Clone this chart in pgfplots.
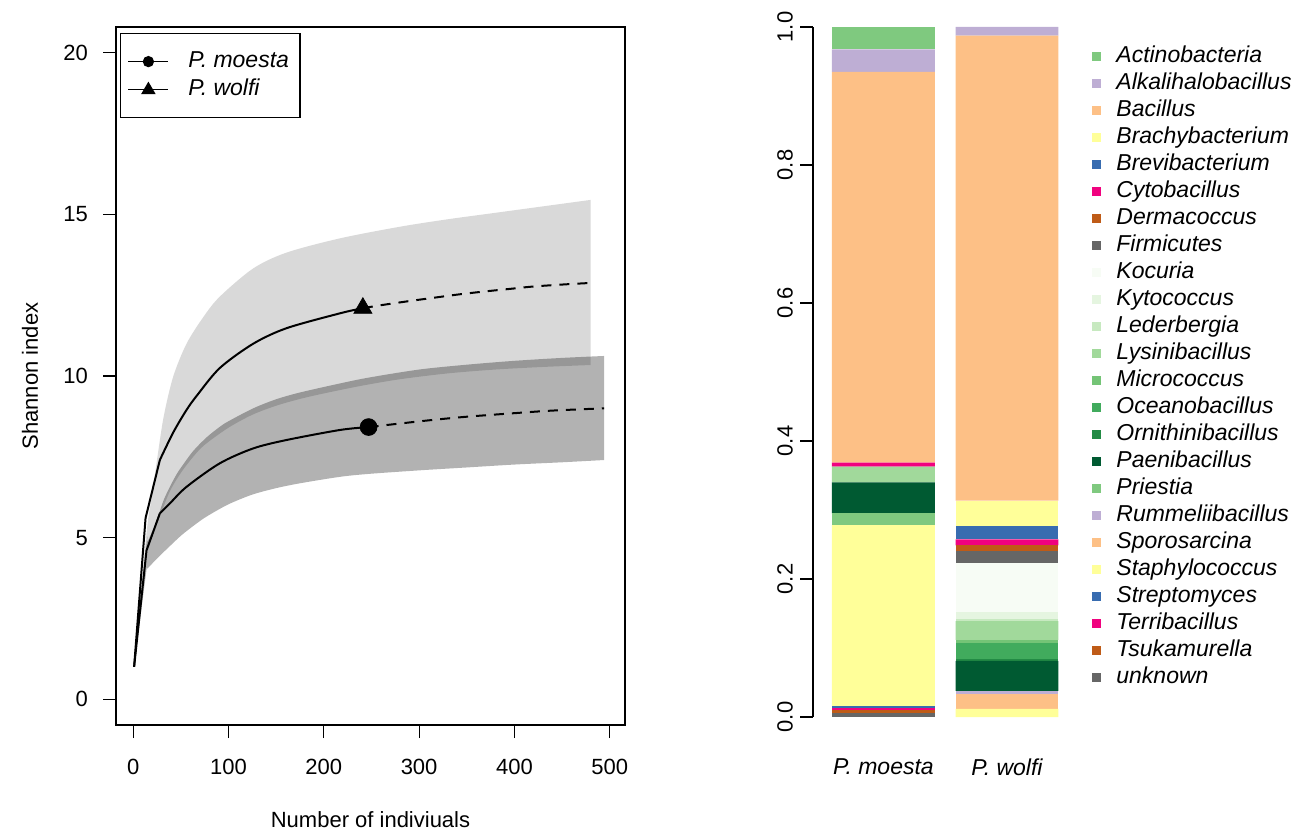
\documentclass[border=0pt]{standalone}
\usepackage{fontspec}
\setmainfont{Liberation Sans}
\usepackage{pgfplots}
\pgfplotsset{compat=1.18}
\usepackage{pgfplotstable}
\usepgfplotslibrary{fillbetween}

\definecolor{acA}{HTML}{7FC97F}
\definecolor{acB}{HTML}{BEAED4}
\definecolor{acC}{HTML}{FDC086}
\definecolor{acD}{HTML}{FFFF99}
\definecolor{acE}{HTML}{386CB0}
\definecolor{acF}{HTML}{F0027F}
\definecolor{acG}{HTML}{BF5B17}
\definecolor{acH}{HTML}{666666}
\definecolor{grA}{HTML}{F7FCF5}
\definecolor{grB}{HTML}{E5F5E0}
\definecolor{grC}{HTML}{C7E9C0}
\definecolor{grD}{HTML}{A1D99B}
\definecolor{grE}{HTML}{74C476}
\definecolor{grF}{HTML}{41AB5D}
\definecolor{grG}{HTML}{238B45}
\definecolor{grH}{HTML}{005A32}

% relative abundances, stacked from bottom (unknown) to top (Actinobacteria)
\pgfplotstableread{
x unknown Tsukamurella Terribacillus Streptomyces Staphylococcus Sporosarcina Rummeliibacillus Priestia Paenibacillus Ornithinibacillus Oceanobacillus Micrococcus Lysinibacillus Lederbergia Kytococcus Kocuria Firmicutes Dermacoccus Cytobacillus Brevibacterium Brachybacterium Bacillus Alkalihalobacillus Actinobacteria
0.7 0.0065 0.0034 0.0034 0.0025 0.2624 0 0 0.0169 0.0449 0 0 0 0.0229 0 0 0 0 0 0.0058 0 0 0.5664 0.0325 0.0323
1.9 0 0 0 0 0.0116 0.0217 0.0044 0 0.0435 0.0029 0.0227 0.0048 0.0275 0.0025 0.0101 0.0710 0.0179 0.0082 0.0087 0.0193 0.0367 0.6739 0.0126 0
}\bardata

\newcommand{\gbar}[2]{%
  \addplot[fill=#2, draw=none, sqleg] table[x=x,y=#1]{\bardata};
  \addlegendentry{#1}}

\newcommand{\fs}{\fontsize{11}{13}\selectfont}
\newcommand{\fl}{\fontsize{11.5}{13.5}\selectfont}

\begin{document}
\begin{tikzpicture}
\path (0,0) rectangle (651pt,415.5pt);

% ---------------- left: rarefaction curves ----------------
\begin{axis}[
  at={(58pt,53pt)}, anchor=south west,
  scale only axis, width=254.5pt, height=349pt,
  xmin=-18, xmax=516, ymin=-0.8, ymax=20.8,
  xtick={0,100,200,300,400,500}, ytick={0,5,10,15,20},
  tick align=outside, tick pos=left, major tick length=6.5pt,
  tick style={black, line width=0.6pt},
  axis line style={line width=0.7pt},
  ticklabel style={font=\fs},
  xticklabel style={yshift=-7pt},
  yticklabel style={xshift=-4pt},
  /pgf/number format/assume math mode=true,
  xlabel={Number of indiviuals}, ylabel={Shannon index},
  every axis x label/.style={at={(axis description cs:0.5,-0.136)}, anchor=center, font=\fs},
  every axis y label/.style={at={(axis description cs:-0.169,0.5)}, rotate=90, anchor=center, font=\fs},
  legend style={at={(axis description cs:0,1)}, anchor=north west,
    xshift=2pt, yshift=-3pt, draw=black, line width=0.6pt,
    font=\fl\itshape, inner xsep=3.5pt, inner ysep=7pt,
    nodes={inner ysep=1.75pt, text height=8pt, text depth=2.5pt}},
  legend cell align=left,
]
% Confidence bands
\addplot[name path=wu, draw=none, smooth, tension=0.5, forget plot] coordinates {
(1,1.0) (14,5.13) (19,6.16) (25,7.4) (32,8.74) (42,9.98) (56,11.0) (74,11.84)
(91,12.46) (126,13.33) (161,13.82) (217,14.26) (280,14.62)
(330,14.85) (380,15.05) (430,15.25) (480,15.45)};
\addplot[name path=wl, draw=none, smooth, tension=0.5, forget plot] coordinates {
(1,1.0) (13,4.5) (14,4.58) (26,5.5) (38,6.4) (50,7.0) (63,7.5) (75,7.87) (100,8.4)
(125,8.8) (150,9.08) (175,9.29) (200,9.46) (240,9.7) (280,9.9)
(330,10.08) (380,10.2) (430,10.28) (480,10.34)};
\addplot[fill=black, fill opacity=0.15, draw=none, forget plot] fill between[of=wu and wl];

\addplot[name path=mu, draw=none, smooth, tension=0.5, forget plot] coordinates {
(1,1.0) (14,4.8) (15,4.87) (21,5.25) (26,5.65) (32,6.16) (39,6.6) (46,6.98) (51,7.2)
(63,7.68) (77,8.1) (91,8.43) (100,8.6) (126,9.0) (150,9.28) (175,9.49)
(217,9.77) (247,9.95) (300,10.2) (350,10.35) (400,10.47) (450,10.56) (494,10.62)};
\addplot[name path=ml, draw=none, smooth, tension=0.5, forget plot] coordinates {
(1,1.0) (14,4.0) (15,4.04) (26,4.38) (39,4.75) (51,5.08) (64,5.38) (77,5.65) (100,6.03)
(125,6.33) (150,6.53) (175,6.68) (217,6.88) (247,6.97) (300,7.08)
(350,7.17) (400,7.26) (450,7.33) (494,7.4)};
\addplot[fill=black, fill opacity=0.3, draw=none, forget plot] fill between[of=mu and ml];

% P. moesta (observed)
\addplot[black, line width=1pt, forget plot] coordinates {(1,1.0) (14,4.6) (28,5.75)};
\addplot[black, line width=1pt, smooth, tension=0.5,
  legend image code/.code={\draw[black, line width=0.8pt] (0pt,0pt) -- (20pt,0pt);
    \fill[black] (10pt,0pt) circle (2.3pt); \path (27.5pt,0pt);}]
  coordinates {
(28,5.75) (38.6,6.06) (56,6.57) (91,7.3) (126,7.76) (161,8.02) (217,8.33) (247,8.42)};
\addlegendentry{P. moesta}
% P. wolfi (observed)
\addplot[black, line width=1pt, forget plot] coordinates {(1,1.0) (13,5.6) (28,7.4)};
\addplot[black, line width=1pt, smooth, tension=0.5,
  legend image code/.code={\draw[black, line width=0.8pt] (0pt,0pt) -- (20pt,0pt);
    \fill[black] (10pt,3pt) -- (7.2pt,-1.8pt) -- (12.8pt,-1.8pt) -- cycle; \path (27.5pt,0pt);}]
  coordinates {
(28,7.4) (42,8.25) (56,8.95) (67,9.4) (91,10.25) (126,11.0) (161,11.48) (217,11.94) (241,12.1)};
\addlegendentry{P. wolfi}

% extrapolations
\addplot[black, line width=1pt, dash pattern=on 5pt off 4pt, smooth, forget plot] coordinates {
(247,8.42) (280,8.53) (314,8.64) (350,8.74) (400,8.85) (440,8.93) (494,9.0)};
\addplot[black, line width=1pt, dash pattern=on 5pt off 4pt, smooth, forget plot] coordinates {
(241,12.1) (262,12.2) (290,12.32) (320,12.44) (343,12.53) (370,12.62)
(400,12.71) (420,12.77) (450,12.83) (480,12.88)};

% observed points
\addplot[only marks, mark=*, mark size=4.2pt, black, forget plot] coordinates {(247,8.42)};
\addplot[only marks, mark=triangle*, mark size=5.2pt, black, forget plot] coordinates {(241,12.1)};
\end{axis}

% ---------------- right: stacked bars ----------------
\begin{axis}[
  at={(406.5pt,57pt)}, anchor=south west,
  scale only axis, width=133pt, height=345pt,
  xmin=0.0155, xmax=2.6, ymin=0, ymax=1,
  ybar stacked, bar width=1,
  axis y line*=left, axis x line*=bottom,
  x axis line style={draw=none},
  xtick={0.7,1.9}, xticklabels={P. moesta, P. wolfi},
  xtick style={draw=none},
  xticklabel style={font=\fl\itshape, yshift=-17.5pt},
  ytick={0,0.2,0.4,0.6,0.8,1.0},
  yticklabel style={font=\fs, rotate=90, anchor=south},
  /pgf/number format/.cd, fixed, fixed zerofill, precision=1, assume math mode=true,
  /pgfplots/.cd,
  ytick align=outside, major tick length=6.5pt,
  ytick style={black, line width=0.6pt},
  y axis line style={line width=0.7pt, -},
  scaled y ticks=false,
  sqleg/.style={legend image code/.code={\fill[##1] (0pt,-2.25pt) rectangle (4.5pt,2.25pt); \path (10pt,0pt);}},
  reverse legend,
  legend style={at={(axis description cs:1,1)}, anchor=north west,
    xshift=6.5pt, yshift=-8pt, draw=none, fill=none,
    font=\fl\itshape, inner sep=0pt, row sep=0pt,
    nodes={inner ysep=1.5pt, text height=8pt, text depth=2.5pt}},
  legend cell align=left,
]
\gbar{unknown}{acH}
\gbar{Tsukamurella}{acG}
\gbar{Terribacillus}{acF}
\gbar{Streptomyces}{acE}
\gbar{Staphylococcus}{acD}
\gbar{Sporosarcina}{acC}
\gbar{Rummeliibacillus}{acB}
\gbar{Priestia}{acA}
\gbar{Paenibacillus}{grH}
\gbar{Ornithinibacillus}{grG}
\gbar{Oceanobacillus}{grF}
\gbar{Micrococcus}{grE}
\gbar{Lysinibacillus}{grD}
\gbar{Lederbergia}{grC}
\gbar{Kytococcus}{grB}
\gbar{Kocuria}{grA}
\gbar{Firmicutes}{acH}
\gbar{Dermacoccus}{acG}
\gbar{Cytobacillus}{acF}
\gbar{Brevibacterium}{acE}
\gbar{Brachybacterium}{acD}
\gbar{Bacillus}{acC}
\gbar{Alkalihalobacillus}{acB}
\gbar{Actinobacteria}{acA}
\end{axis}
\end{tikzpicture}
\end{document}
